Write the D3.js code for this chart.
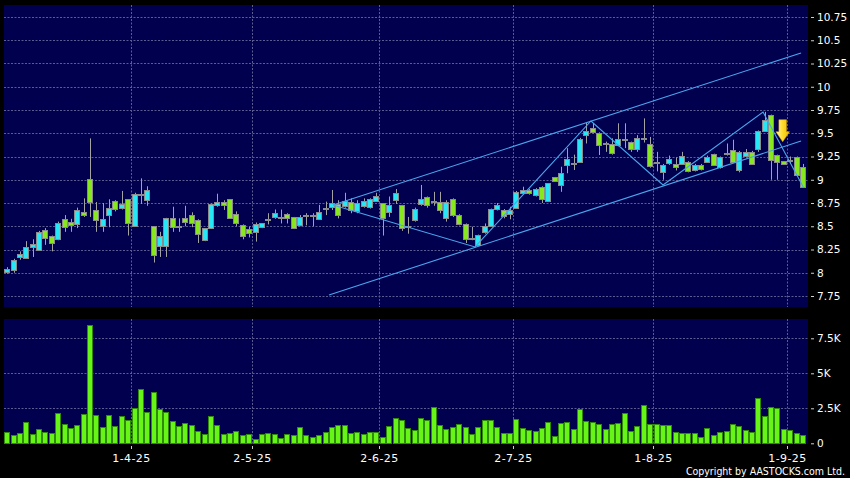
<!DOCTYPE html>
<html><head><meta charset="utf-8">
<script src="https://cdn.jsdelivr.net/npm/d3@7"></script>
<style>html,body{margin:0;padding:0;background:#000;}svg{display:block}</style>
</head><body>
<svg id="chart" width="850" height="478"></svg>
<script>
// ---------- DATA ----------
const dates = [
"2025-03-04","2025-03-05","2025-03-06","2025-03-07","2025-03-10","2025-03-11","2025-03-12","2025-03-13","2025-03-14",
"2025-03-17","2025-03-18","2025-03-19","2025-03-20","2025-03-21","2025-03-24","2025-03-25","2025-03-26","2025-03-27","2025-03-28","2025-03-31",
"2025-04-01","2025-04-02","2025-04-03","2025-04-07","2025-04-08","2025-04-09","2025-04-10","2025-04-11","2025-04-14","2025-04-15","2025-04-16","2025-04-17",
"2025-04-22","2025-04-23","2025-04-24","2025-04-25","2025-04-28","2025-04-29","2025-04-30",
"2025-05-02","2025-05-06","2025-05-07","2025-05-08","2025-05-09","2025-05-12","2025-05-13","2025-05-14","2025-05-15","2025-05-16",
"2025-05-19","2025-05-20","2025-05-21","2025-05-22","2025-05-23","2025-05-26","2025-05-27","2025-05-28","2025-05-29","2025-05-30",
"2025-06-02","2025-06-03","2025-06-04","2025-06-05","2025-06-06","2025-06-09","2025-06-10","2025-06-11","2025-06-12","2025-06-13",
"2025-06-16","2025-06-17","2025-06-18","2025-06-19","2025-06-20","2025-06-23","2025-06-24","2025-06-25","2025-06-26","2025-06-27","2025-06-30",
"2025-07-02","2025-07-03","2025-07-04","2025-07-07","2025-07-08","2025-07-09","2025-07-10","2025-07-11","2025-07-14","2025-07-15","2025-07-16","2025-07-17","2025-07-18",
"2025-07-21","2025-07-22","2025-07-23","2025-07-24","2025-07-25","2025-07-28","2025-07-29","2025-07-30","2025-07-31",
"2025-08-01","2025-08-04","2025-08-05","2025-08-06","2025-08-07","2025-08-08","2025-08-11","2025-08-12","2025-08-13","2025-08-14","2025-08-15",
"2025-08-18","2025-08-19","2025-08-20","2025-08-21","2025-08-22","2025-08-25","2025-08-26","2025-08-27","2025-08-28","2025-08-29",
"2025-09-01","2025-09-02","2025-09-03"
];
const open = [
8.01,8.03,8.17,8.16,8.28,8.25,8.46,8.39,8.37,8.58,8.55,8.53,8.65,9.01,8.68,8.50,8.63,8.77,8.70,8.79,
8.51,8.85,8.78,8.50,8.28,8.28,8.585,8.50,8.585,8.62,8.57,8.345,8.478,8.725,8.757,8.79,8.63,8.51,8.47,
8.435,8.485,8.58,8.597,8.60,8.63,8.60,8.51,8.62,8.62,8.585,8.70,8.703,8.74,8.72,8.765,8.657,8.72,8.70,8.775,
8.745,8.657,8.775,8.73,8.50,8.567,8.735,8.81,8.77,8.765,8.596,8.79,8.62,8.525,8.37,8.30,8.434,8.51,8.685,8.68,8.63,
8.70,8.855,8.89,8.836,8.925,8.77,9.03,8.94,9.16,9.18,9.19,9.485,9.56,9.50,9.39,9.38,9.374,9.435,9.41,9.327,9.445,9.38,
9.19,9.087,9.177,9.165,9.17,9.187,9.105,9.16,9.195,9.273,9.13,9.29,9.32,9.105,9.255,9.30,9.327,9.524,9.696,9.266,9.20,
9.21,9.245,9.14
];
const high = [
8.06,8.15,8.23,8.34,8.36,8.45,8.48,8.40,8.55,8.62,8.58,8.70,8.80,9.445,8.76,8.75,8.79,8.78,8.88,8.79,
8.86,9.015,8.93,8.50,8.44,8.59,8.71,8.585,8.72,8.65,8.575,8.48,8.745,8.85,8.78,8.79,8.66,8.52,8.495,
8.54,8.535,8.64,8.68,8.68,8.64,8.60,8.62,8.64,8.64,8.73,8.765,8.89,8.78,8.86,8.80,8.78,8.80,8.80,8.86,
8.75,8.82,8.90,8.73,8.60,8.70,8.944,8.82,8.87,8.87,8.78,8.80,8.63,8.53,8.495,8.41,8.53,8.69,8.75,8.685,8.71,
8.88,8.925,8.90,8.91,8.93,8.96,9.03,9.14,9.34,9.27,9.45,9.61,9.61,9.51,9.41,9.445,9.607,9.607,9.41,9.48,9.66,9.46,
9.30,9.17,9.26,9.24,9.30,9.20,9.17,9.17,9.26,9.28,9.25,9.39,9.43,9.31,9.33,9.31,9.53,9.73,9.70,9.27,9.20,
9.25,9.25,9.17
];
const low = [
7.99,8.00,8.14,8.15,8.17,8.25,8.30,8.23,8.35,8.44,8.44,8.48,8.60,8.60,8.44,8.44,8.49,8.66,8.68,8.40,
8.50,8.74,8.72,8.11,8.17,8.17,8.44,8.44,8.50,8.49,8.32,8.34,8.47,8.71,8.675,8.585,8.50,8.36,8.38,
8.335,8.48,8.52,8.58,8.53,8.53,8.47,8.50,8.51,8.50,8.58,8.62,8.675,8.585,8.70,8.64,8.64,8.70,8.69,8.77,
8.40,8.60,8.74,8.45,8.42,8.55,8.72,8.70,8.72,8.64,8.55,8.60,8.51,8.32,8.35,8.29,8.42,8.50,8.67,8.585,8.575,
8.70,8.84,8.84,8.82,8.75,8.76,8.985,8.87,9.07,9.105,9.185,9.39,9.50,9.266,9.30,9.27,9.36,9.34,9.30,9.30,9.40,9.13,
9.09,9.00,9.16,9.10,9.16,9.08,9.09,9.10,9.18,9.15,9.12,9.26,9.18,9.08,9.25,9.16,9.30,9.52,9.00,9.00,9.16,
9.17,9.05,8.92
];
const close = [
8.04,8.14,8.20,8.28,8.31,8.44,8.37,8.31,8.54,8.49,8.52,8.68,8.62,8.76,8.57,8.58,8.70,8.68,8.74,8.53,
8.85,8.84,8.89,8.19,8.39,8.585,8.49,8.50,8.54,8.53,8.42,8.478,8.74,8.757,8.725,8.585,8.53,8.39,8.43,
8.52,8.53,8.565,8.64,8.60,8.585,8.48,8.595,8.62,8.62,8.655,8.70,8.745,8.62,8.77,8.68,8.745,8.77,8.79,8.825,
8.585,8.73,8.854,8.48,8.50,8.69,8.79,8.72,8.77,8.675,8.765,8.62,8.525,8.36,8.37,8.405,8.50,8.69,8.73,8.62,8.675,
8.87,8.89,8.855,8.90,8.80,8.96,8.99,9.07,9.22,9.18,9.435,9.528,9.52,9.374,9.39,9.284,9.435,9.435,9.34,9.445,9.445,9.148,
9.19,9.16,9.22,9.13,9.255,9.094,9.16,9.112,9.25,9.16,9.24,9.29,9.187,9.30,9.30,9.176,9.524,9.64,9.213,9.194,9.166,
9.21,9.05,8.93
];
const volume = [
790,600,710,1520,690,1000,790,740,2190,1360,1070,1330,2070,8450,2020,1140,2000,1260,1980,1690,
2500,3860,2260,3670,2450,2240,1600,1210,1450,1310,900,690,1930,1310,670,740,880,600,690,
310,690,710,670,400,670,570,1140,620,450,620,790,1170,1330,1290,740,810,690,790,810,
430,1210,1810,1640,1100,930,1790,1670,2570,1310,1050,1140,1380,1190,690,1190,1690,1670,1170,740,710,
1710,1100,980,860,1100,1500,520,1450,1520,1000,2480,1600,1550,1360,1000,1360,1430,2170,860,1210,2710,1400,
1380,1310,1310,810,710,740,740,480,1070,620,810,900,1400,1260,930,830,3210,1950,2600,2520,1020,
930,710,600
];
const xTickDates  = ["2025-04-01","2025-05-02","2025-06-02","2025-07-02","2025-08-01","2025-09-01"];
const xTickLabels = ["1-4-25","2-5-25","2-6-25","2-7-25","1-8-25","1-9-25"];
const priceTicks = [7.75,8,8.25,8.5,8.75,9,9.25,9.5,9.75,10,10.25,10.5,10.75];
const volumeTicks = [0,2500,5000,7500];
const volumeTickLabels = ["0","2.5K","5K","7.5K"];
// trend lines: [slot position (fractional candle index), price]
const upperChannel = [[51.72,8.728],[125.25,10.363]];
const lowerChannel = [[51.09,7.76],[125.25,9.417]];
const zigzag = [[51.72,8.728],[74.03,8.277],[92.25,9.632],[103.57,8.944],[119.28,9.728],[125.6,8.922]];
const arrowAt = [122.37, 9.409];
const copyright = "Copyright by AASTOCKS.com Ltd.";

// ---------- CHART ----------
const n = dates.length;
const svg = d3.select("#chart");
const plotL = 4, plotR = 808;
const pTop = 5, pBot = 307, vTop = 319, vBot = 444;
const NAVY = "#00004f", GRID = "#5c5c90";
const UP = "#27e6f6", DOWN = "#88e81e", DOJI = "#9a9a9a";

svg.append("rect").attr("width",850).attr("height",478).attr("fill","#000");
svg.append("rect").attr("x",plotL).attr("y",pTop).attr("width",plotR-plotL).attr("height",pBot-pTop).attr("fill",NAVY);
svg.append("rect").attr("x",plotL).attr("y",vTop).attr("width",plotR-plotL).attr("height",vBot-vTop).attr("fill",NAVY);

const x = d3.scaleBand().domain(d3.range(n)).range([3.8,805.8]).paddingInner(0.15).paddingOuter(0.075);
const xs = d3.scaleLinear().domain([0,n]).range([3.8,805.8]);
const y = d3.scaleLinear().domain([7.75,10.75]).range([296,17]);
const yv = d3.scaleLinear().domain([0,7500]).range([443.3,338.3]);

const tickIdx = xTickDates.map(d => dates.indexOf(d));
const gx = i => Math.round(xs(i)) + 0.5;

// grid
const grid = svg.append("g").attr("stroke",GRID).attr("stroke-dasharray","2,1.5").attr("stroke-width",1);
grid.selectAll(".hp").data(priceTicks).join("line")
  .attr("x1",plotL).attr("x2",plotR).attr("y1",d=>Math.round(y(d))+0.5).attr("y2",d=>Math.round(y(d))+0.5);
grid.selectAll(".hv").data(volumeTicks.filter(d=>d>0)).join("line").attr("class","hv")
  .attr("x1",plotL).attr("x2",plotR).attr("y1",d=>Math.round(yv(d))+0.5).attr("y2",d=>Math.round(yv(d))+0.5);
grid.selectAll(".vp").data(tickIdx).join("line").attr("class","vp")
  .attr("x1",gx).attr("x2",gx).attr("y1",pTop).attr("y2",pBot);
grid.selectAll(".vv").data(tickIdx).join("line").attr("class","vv")
  .attr("x1",gx).attr("x2",gx).attr("y1",vTop).attr("y2",vBot);

const data = dates.map((d,i)=>({i,d,o:open[i],h:high[i],l:low[i],c:close[i],v:volume[i]}));
const bw = x.bandwidth();
const BW = Math.round(bw);           // drawn body width (plus 1px stroke)
const cxp = i => Math.round(x(i))+0.5+BW/2;

// candles
const cg = svg.append("g");
cg.selectAll(".wick").data(data).join("line")
  .attr("x1",d=>Math.round(cxp(d.i))+0.5).attr("x2",d=>Math.round(cxp(d.i))+0.5)
  .attr("y1",d=>y(d.h)).attr("y2",d=>y(d.l))
  .attr("stroke","#a3a3a3").attr("stroke-width",1);
cg.selectAll(".body").data(data).join("rect")
  .attr("x",d=>Math.round(x(d.i))+0.5).attr("width",BW)
  .attr("y",d=>Math.round(y(Math.max(d.o,d.c)))+0.5)
  .attr("height",d=>Math.max(1,Math.round(Math.abs(y(d.o)-y(d.c)))))
  .attr("fill",d=>d.c>d.o?UP:(d.c<d.o?DOWN:DOJI))
  .attr("stroke","#8c8c8c").attr("stroke-width",1);

// volume
svg.append("g").selectAll("rect").data(data).join("rect")
  .attr("x",d=>Math.round(x(d.i))+0.5).attr("width",BW)
  .attr("y",d=>Math.round(yv(d.v))+0.5)
  .attr("height",d=>Math.round(yv(0))-Math.round(yv(d.v)))
  .attr("fill","#66f516").attr("stroke","#2f8a0c").attr("stroke-width",1);

// trend lines
const line = d3.line().x(d=>xs(d[0])).y(d=>y(d[1]));
const tl = svg.append("g").attr("fill","none").attr("stroke","#4aa6ec").attr("stroke-width",1.1);
[upperChannel, lowerChannel, zigzag].forEach(p => tl.append("path").attr("d",line(p)));

// arrow
const defs = svg.append("defs");
const grad = defs.append("linearGradient").attr("id","ag").attr("x1",0).attr("x2",1).attr("y1",0).attr("y2",0);
grad.append("stop").attr("offset","0%").attr("stop-color","#fff6b0");
grad.append("stop").attr("offset","50%").attr("stop-color","#ffdc2a");
grad.append("stop").attr("offset","100%").attr("stop-color","#f2b800");
svg.append("path")
  .attr("transform",`translate(${xs(arrowAt[0])},${y(arrowAt[1])})`)
  .attr("d","M-3.8,-22 L3.8,-22 L3.8,-10 L6.8,-10 L0,0 L-6.8,-10 L-3.8,-10 Z")
  .attr("fill","url(#ag)").attr("stroke","#e0aa00").attr("stroke-width",0.5);

// axes
const FONT = "DejaVu Sans, Verdana, sans-serif";
const ay = svg.append("g").attr("transform","translate(811,0)")
  .call(d3.axisRight(y).tickValues(priceTicks).tickSize(3).tickPadding(3).tickFormat(d=>String(d)));
const av = svg.append("g").attr("transform","translate(811,0)")
  .call(d3.axisRight(yv).tickValues(volumeTicks).tickSize(3).tickPadding(3).tickFormat((d,i)=>volumeTickLabels[i]));
const ax = svg.append("g").attr("transform","translate(0,446)")
  .call(d3.axisBottom(xs).tickValues(tickIdx).tickSize(3).tickPadding(5).tickFormat((d,i)=>xTickLabels[i]));
[ay,av,ax].forEach(g=>{
  g.select(".domain").remove();
  g.selectAll(".tick line").attr("stroke","#cfcfcf");
  g.selectAll("text").attr("fill","#fff").attr("font-family",FONT).attr("font-size","10.5px");
});
ax.selectAll(".tick").attr("transform",d=>`translate(${gx(d)},0)`);
ax.selectAll("text").attr("font-size","11px").attr("letter-spacing","0.4px");

svg.append("text").attr("x",845).attr("y",475).attr("text-anchor","end")
  .attr("fill","#fff").attr("font-family","DejaVu Sans Condensed, DejaVu Sans, sans-serif")
  .attr("font-stretch","condensed").attr("font-size","10.5px").text(copyright);
</script>
</body></html>
